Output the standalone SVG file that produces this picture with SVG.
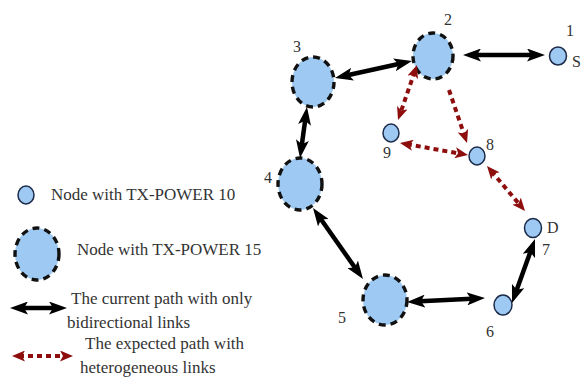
<svg xmlns="http://www.w3.org/2000/svg" width="582" height="381" viewBox="0 0 582 381">
<style>
.big{fill:#9ec9f2;stroke:#111;stroke-width:3.4;stroke-dasharray:7 5}
.small{fill:#9ec9f2;stroke:#1c2b4a;stroke-width:1.5}
.blk{stroke:#000;stroke-width:4.5;fill:none;marker-start:url(#ab);marker-end:url(#ab)}
.red{stroke:#8e0d0d;stroke-width:4;fill:none;stroke-dasharray:5 4}
.lbl{font-family:"Liberation Serif","Times New Roman",serif;font-size:16px;fill:#333}
.leg{font-family:"Liberation Serif","Times New Roman",serif;font-size:17px;fill:#333}
</style>
<defs>
<marker id="ab" markerUnits="userSpaceOnUse" markerWidth="18" markerHeight="13" refX="10" refY="6.5" orient="auto-start-reverse" viewBox="0 0 18 13">
<path d="M0,0 L18,6.5 L0,13 L4,6.5 Z" fill="#000"/>
</marker>
<marker id="ar" markerUnits="userSpaceOnUse" markerWidth="13" markerHeight="11" refX="6" refY="5.5" orient="auto-start-reverse" viewBox="0 0 13 11">
<path d="M0,0 L13,5.5 L0,11 L3,5.5 Z" fill="#8e0d0d"/>
</marker>
</defs>
<rect width="582" height="381" fill="#fff"/>
<g id="node2"><ellipse class="big" cx="433" cy="56" rx="20" ry="23"/><text class="lbl" x="448" y="25" text-anchor="middle">2</text></g>
<g id="node3"><ellipse class="big" cx="313" cy="82" rx="21" ry="25"/><text class="lbl" x="297" y="52" text-anchor="middle">3</text></g>
<g id="node4"><ellipse class="big" cx="300" cy="184" rx="22" ry="26"/><text class="lbl" x="268" y="183" text-anchor="middle">4</text></g>
<g id="node5"><ellipse class="big" cx="385" cy="300" rx="22" ry="25"/><text class="lbl" x="342" y="323" text-anchor="middle">5</text></g>
<g id="node1"><ellipse class="small" cx="558" cy="56" rx="8.5" ry="9"/><text class="lbl" x="570" y="36" text-anchor="middle">1</text><text class="lbl" x="572" y="67">S</text></g>
<g id="node9"><ellipse class="small" cx="391" cy="133" rx="8" ry="9"/><text class="lbl" x="387" y="158" text-anchor="middle">9</text></g>
<g id="node8"><ellipse class="small" cx="477" cy="156" rx="8" ry="9"/><text class="lbl" x="490" y="150" text-anchor="middle">8</text></g>
<g id="node7"><ellipse class="small" cx="533" cy="228" rx="8.5" ry="9.5"/><text class="lbl" x="547" y="233">D</text><text class="lbl" x="546" y="255" text-anchor="middle">7</text></g>
<g id="node6"><ellipse class="small" cx="503" cy="305" rx="9" ry="10"/><text class="lbl" x="490" y="337" text-anchor="middle">6</text></g>
<g id="connectors">
<line class="blk" x1="471" y1="55" x2="537" y2="55"/>
<line class="blk" x1="342.8" y1="76.3" x2="404.2" y2="62.7"/>
<line class="blk" x1="301.1" y1="150.1" x2="305.9" y2="114.9"/>
<line class="blk" x1="317.6" y1="214.5" x2="358.4" y2="272.5"/>
<line class="blk" x1="415" y1="301.6" x2="477" y2="298.4"/>
<line class="blk" x1="514.7" y1="295.5" x2="532.3" y2="246.5"/>
<line class="red" x1="414.7" y1="71.6" x2="400.3" y2="113.4" marker-start="url(#ar)" marker-end="url(#ar)"/>
<line class="red" x1="449" y1="90" x2="464.8" y2="136.4" marker-end="url(#ar)"/>
<line class="red" x1="406.9" y1="144.2" x2="461.1" y2="153.8" marker-start="url(#ar)" marker-end="url(#ar)"/>
<line class="red" x1="491.5" y1="171.3" x2="520.5" y2="205.7" marker-start="url(#ar)" marker-end="url(#ar)"/>
</g>
<g id="legend">
<ellipse class="small" cx="26" cy="195" rx="8" ry="9"/>
<text class="leg" x="51" y="200">Node with TX-POWER 10</text>
<ellipse class="big" cx="37" cy="254" rx="22" ry="26"/>
<text class="leg" x="77" y="255">Node with TX-POWER 15</text>
<line class="blk" x1="18" y1="308" x2="59" y2="308"/>
<text class="leg" x="71" y="304">The current path with only</text>
<text class="leg" x="67" y="328">bidirectional links</text>
<line class="red" x1="19" y1="356" x2="66" y2="356" marker-start="url(#ar)" marker-end="url(#ar)"/>
<text class="leg" x="85" y="349">The expected path with</text>
<text class="leg" x="80" y="373">heterogeneous  links</text>
</g>
</svg>
